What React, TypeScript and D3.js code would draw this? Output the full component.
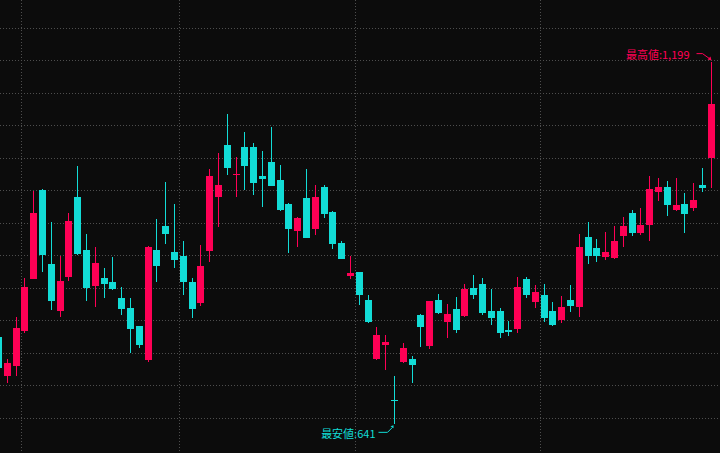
import React from "react";
import * as d3 from "d3";

const OPEN = [775,715,731,784,865,1002,887,815,868,991,909,854,866,860,835,820,792,740,909,946,906,900,860,828,908,991,1070,1025,1067,1068,1023,1045,1017,980,939,989,942,1006,968,920,869,875,832,741,763,678,737,742,809,761,832,798,818,808,850,857,815,815,786,788,864,829,840,815,802,833,822,929,912,899,897,931,966,936,947,999,1006,970,980,974,1009,1050];
const HIGH = [778,742,806,866,1000,1003,952,900,966,1039,934,914,881,898,852,835,793,915,957,1014,980,923,866,917,1034,1059,1119,1053,1091,1074,1062,1099,1040,982,960,1034,1009,1009,969,923,900,876,840,790,778,715,766,746,810,831,841,826,837,857,871,866,849,820,800,867,867,855,857,829,838,855,934,952,926,937,946,960,971,974,1023,1020,1016,1020,997,1012,1036,1199];
const LOW = [722,704,715,781,864,876,817,806,862,902,831,822,835,848,809,751,758,737,860,919,882,840,805,823,891,945,1025,990,1002,994,976,1007,969,905,914,927,933,959,911,895,864,825,797,740,724,641,735,704,760,757,811,774,781,806,834,809,794,774,777,781,835,820,798,793,797,814,806,888,890,894,896,914,931,933,923,985,962,969,936,969,998,1005];
const CLOSE = [727,735,789,852,966,902,831,861,954,903,851,889,857,849,819,788,763,914,885,934,894,860,819,884,1023,1009,1036,1026,1038,1013,1019,1008,970,942,958,928,991,965,919,896,874,840,798,779,767,677,758,732,791,830,812,810,786,849,840,812,805,781,783,852,840,844,805,794,821,823,914,900,900,906,923,946,936,948,1003,1006,979,979,964,986,1004,1134];

// index of first trading day of each month (vertical grid)
const MONTH_STARTS = [3, 21, 41, 62];
// horizontal grid price levels
const GRID_LEVELS = [650,700,750,800,850,900,950,1000,1050,1100,1150,1200,1250];

const HIGH_LABEL = "最高値:1,199";
const LOW_LABEL = "最安値:641";

const W = 720;
const H = 453;
const UP = "#ff0055";
const DOWN = "#12dcd6";
const BG = "#0c0c0c";
const GRID = "#4e4e4e";

export default function App() {
  const n = OPEN.length;
  const x = d3.scaleLinear().domain([0, n - 1]).range([-1.5, 711.3]);
  const y = d3.scaleLinear().domain([596.9, 1293.8]).range([H, 0]);
  const px = (i: number) => Math.floor(x(i));

  const hiIdx = HIGH.indexOf(d3.max(HIGH) as number);
  const loIdx = LOW.indexOf(d3.min(LOW) as number);
  const hx = px(hiIdx) + 0.5;
  const hy = y(HIGH[hiIdx]);
  const lx = px(loIdx) + 0.5;
  const ly = y(LOW[loIdx]);

  const font = "'Noto Sans CJK JP', 'Noto Sans', sans-serif";

  return (
    <div style={{ position: "fixed", left: 0, top: 0 }}>
      <svg width={W} height={H} style={{ display: "block" }}>
        <rect x={0} y={0} width={W} height={H} fill={BG} />
        {GRID_LEVELS.map((p) => {
          const yy = Math.floor(y(p)) + 0.5;
          return (
            <line key={"h" + p} x1={0} x2={W} y1={yy} y2={yy} stroke={GRID} strokeWidth={1} strokeDasharray="1 2" />
          );
        })}
        {MONTH_STARTS.map((i) => {
          const xx = Math.round(x(i - 0.5)) + 0.5;
          return (
            <line key={"v" + i} x1={xx} x2={xx} y1={0} y2={H} stroke={GRID} strokeWidth={1} strokeDasharray="1 2" />
          );
        })}
        {OPEN.map((o, i) => {
          const c = CLOSE[i];
          const up = c >= o;
          const col = up ? UP : DOWN;
          const cx = px(i);
          const top = Math.round(y(Math.max(o, c)));
          const bot = Math.round(y(Math.min(o, c)));
          const wt = Math.round(y(HIGH[i]));
          const wb = Math.round(y(LOW[i]));
          return (
            <g key={i}>
              <rect x={cx} y={wt} width={1} height={Math.max(1, wb - wt)} fill={col} />
              <rect x={cx - 3} y={top} width={7} height={Math.max(1, bot - top)} fill={col} />
            </g>
          );
        })}
        {/* high annotation */}
        <path d={`M${hx - 15},${hy - 8} L${hx - 9},${hy - 8} L${hx - 2},${hy - 3}`} fill="none" stroke={UP} strokeWidth={1} />
        <path d={`M${hx},${hy - 1} L${hx - 4},${hy - 2} L${hx - 1},${hy - 5} Z`} fill={UP} />
        <text x={hx - 22} y={hy - 3} fill={UP} fontSize={11} fontFamily={font} textAnchor="end">
          {HIGH_LABEL}
        </text>
        {/* low annotation */}
        <path d={`M${lx - 16},${ly + 8} L${lx - 7},${ly + 8} L${lx - 2},${ly + 3}`} fill="none" stroke={DOWN} strokeWidth={1} />
        <path d={`M${lx - 1},${ly + 1} L${lx - 1},${ly + 4} L${lx - 4},${ly + 2} Z`} fill={DOWN} />
        <text x={lx - 19} y={ly + 14} fill={DOWN} fontSize={11} fontFamily={font} textAnchor="end">
          {LOW_LABEL}
        </text>
      </svg>
    </div>
  );
}
